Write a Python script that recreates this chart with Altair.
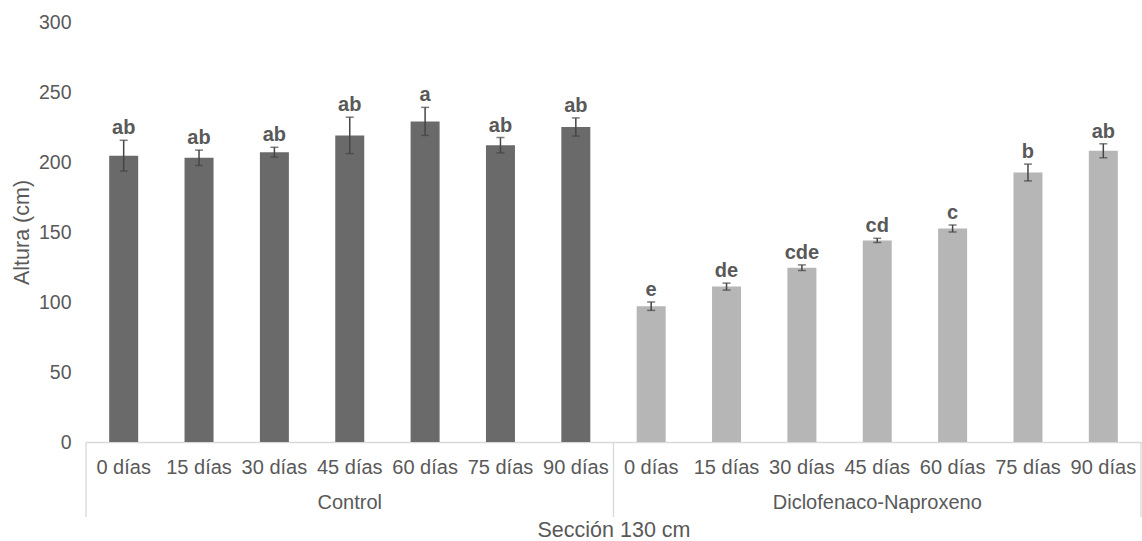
import altair as alt
import pandas as pd

# Plant height (cm) at the 130 cm section, per treatment and sampling day
grupos = ["Control", "Diclofenaco-Naproxeno"]
dias = ["0 días", "15 días", "30 días", "45 días", "60 días", "75 días", "90 días"]
medias_control = [204.5, 203, 207, 219, 229, 212, 225]
error_control = [11, 5.5, 3.5, 13, 10, 5.5, 6.5]
letras_control = ["ab", "ab", "ab", "ab", "a", "ab", "ab"]
medias_dn = [97, 111, 124.5, 144, 152.5, 192.5, 208]
error_dn = [3, 2.5, 2, 1.5, 2.5, 6, 5]
letras_dn = ["e", "de", "cde", "cd", "c", "b", "ab"]

colores = ["#6a6a6a", "#b6b6b6"]
gris_texto = "#595959"
gris_linea = "#d9d9d9"
fuente = "Liberation Sans"

W, H = 1055, 420

filas = []
for g, medias, errs, letras in [
    (grupos[0], medias_control, error_control, letras_control),
    (grupos[1], medias_dn, error_dn, letras_dn),
]:
    for d, m, e, l in zip(dias, medias, errs, letras):
        filas.append({"clave": f"{g}|{d}", "grupo": g, "dia": d, "media": m,
                      "lo": m - e, "hi": m + e, "letra": l})
df = pd.DataFrame(filas)
orden = list(df["clave"])

x_scale = alt.Scale(domain=orden, paddingInner=0, paddingOuter=0)
x_axis = alt.Axis(
    title="Sección 130 cm", labelExpr="split(datum.label, '|')[1]", labelAngle=0,
    ticks=False, domainColor=gris_linea, domainWidth=1.3, labelColor=gris_texto,
    labelFontSize=20, labelFont=fuente, labelPadding=15,
    titleColor=gris_texto, titleFontSize=21.5, titleFont=fuente, titleFontWeight="normal",
    titleY=88, titleBaseline="middle",
)
y_scale = alt.Scale(domain=[0, 300], nice=False)
y_axis = alt.Axis(
    title="Altura (cm)", values=[0, 50, 100, 150, 200, 250, 300], grid=False,
    domain=False, ticks=False, labelColor=gris_texto, labelFontSize=19.5,
    labelFont=fuente, labelPadding=15, titleColor=gris_texto, titleFontSize=21.5,
    titleFont=fuente, titleFontWeight="normal", titleX=-64, titleY=H / 2,
    titleBaseline="middle", titleAngle=-90,
)

base = alt.Chart(df)

barras = base.mark_bar(size=29).encode(
    x=alt.X("clave:N", scale=x_scale, axis=x_axis, sort=orden),
    y=alt.Y("media:Q", scale=y_scale, axis=y_axis),
    color=alt.Color("grupo:N", scale=alt.Scale(domain=grupos, range=colores), legend=None),
)

barra_error = base.mark_rule(color="#454545", strokeWidth=1.5).encode(
    x=alt.X("clave:N", sort=orden), y="lo:Q", y2="hi:Q"
)
tope = base.mark_tick(color="#454545", size=8, thickness=1.5, orient="horizontal").encode(
    x=alt.X("clave:N", sort=orden), y="hi:Q"
)
base_err = base.mark_tick(color="#454545", size=8, thickness=1.5, orient="horizontal").encode(
    x=alt.X("clave:N", sort=orden), y="lo:Q"
)

letras = base.mark_text(
    font=fuente, fontSize=20, fontWeight="bold", color=gris_texto,
    baseline="bottom", dy=-2,
).encode(x=alt.X("clave:N", sort=orden), y="hi:Q", text="letra:N")

# Group labels under the day labels, centred on the middle day of each group
grupo_df = pd.DataFrame({"clave": [f"{g}|{dias[3]}" for g in grupos], "grupo": grupos})
etiquetas_grupo = alt.Chart(grupo_df).mark_text(
    font=fuente, fontSize=20, color=gris_texto, baseline="middle"
).encode(x=alt.X("clave:N", sort=orden), y=alt.value(H + 61), text="grupo:N")

# Separators of the two-level category axis
inicio_df = pd.DataFrame({"clave": [f"{g}|{dias[0]}" for g in grupos]})
fin_df = pd.DataFrame({"clave": [f"{grupos[-1]}|{dias[-1]}"]})
sep_inicio = alt.Chart(inicio_df).mark_rule(color=gris_linea, strokeWidth=1.3).encode(
    x=alt.X("clave:N", sort=orden, bandPosition=0), y=alt.value(H), y2=alt.value(H + 75)
)
sep_fin = alt.Chart(fin_df).mark_rule(color=gris_linea, strokeWidth=1.3).encode(
    x=alt.X("clave:N", sort=orden, bandPosition=1), y=alt.value(H), y2=alt.value(H + 75)
)

chart = (
    alt.layer(barras, barra_error, tope, base_err, letras, etiquetas_grupo, sep_inicio, sep_fin)
    .properties(
        width=W, height=H, autosize=alt.AutoSizeParams(type="none"),
        padding={"left": 86, "top": 22, "right": 1, "bottom": 99},
        background="white",
    )
    .configure_view(stroke=None)
)

chart.save("out.html", embed_options={"renderer": "svg", "actions": False})
